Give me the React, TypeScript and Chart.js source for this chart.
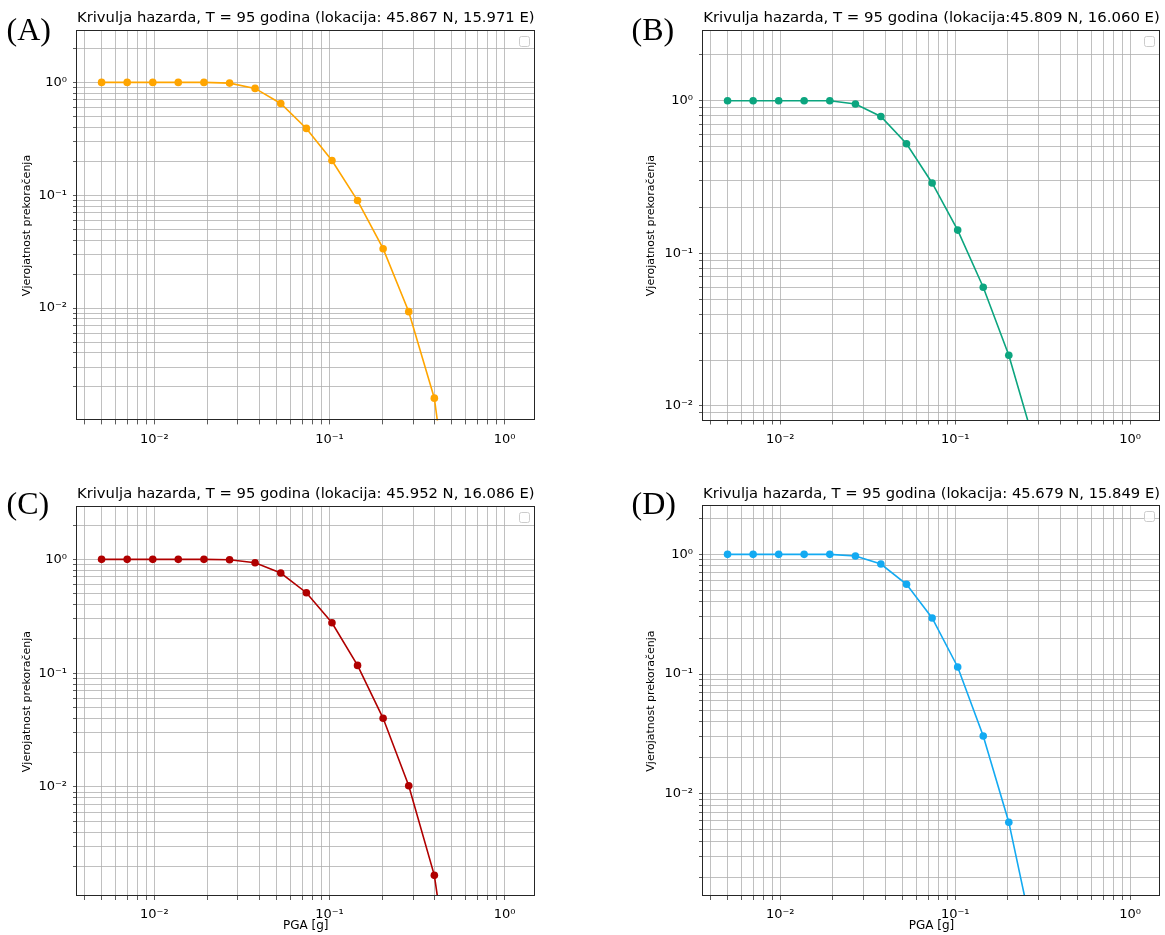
import React, { useEffect, useRef } from 'react';
import { Chart, registerables } from 'chart.js';

Chart.register(...registerables);

const FONT = '"DejaVu Sans", sans-serif';

// PGA values [g] (x axis)
const PGA = [0.005, 0.007, 0.0098, 0.0137, 0.0192, 0.0269, 0.0376, 0.0527, 0.0738, 0.1033, 0.1446, 0.2024, 0.2834, 0.3968, 0.5555];

// Probability of exceedance per location
const POE_A = [1.0, 1.0, 1.0, 1.0, 1.0, 0.986, 0.885, 0.651, 0.391, 0.203, 0.0897, 0.0336, 0.00929, 0.00159, 0.000032];
const POE_B = [1.0, 1.0, 1.0, 1.0, 1.0, 0.951, 0.788, 0.522, 0.289, 0.142, 0.06, 0.0215, 0.0057];
const POE_C = [1.0, 1.0, 1.0, 1.0, 1.0, 0.992, 0.933, 0.758, 0.509, 0.277, 0.117, 0.0401, 0.01025, 0.00167, 0.000047];
const POE_D = [1.0, 1.0, 1.0, 1.0, 1.0, 0.968, 0.83, 0.562, 0.294, 0.1146, 0.0304, 0.00579, 0.000575];

const TITLES = [
  'Krivulja hazarda, T = 95 godina (lokacija: 45.867 N, 15.971 E)',
  'Krivulja hazarda, T = 95 godina (lokacija:45.809 N, 16.060 E)',
  'Krivulja hazarda, T = 95 godina (lokacija: 45.952 N, 16.086 E)',
  'Krivulja hazarda, T = 95 godina (lokacija: 45.679 N, 15.849 E)',
];
const LETTERS = ['(A)', '(B)', '(C)', '(D)'];
const COLORS = ['#ffa500', '#0ca57f', '#b00000', '#13aaf2'];

const Y_LABEL = 'Vjerojatnost prekoračenja';
const X_LABEL = 'PGA [g]';

const X_RANGE = [0.00362, 1.48];
const Y_RANGES = [
  [0.00101, 2.88],
  [0.00803, 2.88],
  [0.0011, 2.88],
  [0.0014, 2.53],
];

const X_MAJOR = [0.01, 0.1, 1];
const X_MAJOR_LABELS = ['10⁻²', '10⁻¹', '10⁰'];
const Y_MAJOR = [0.001, 0.01, 0.1, 1];
const Y_MAJOR_LABELS = ['10⁻³', '10⁻²', '10⁻¹', '10⁰'];

function logTicks(min: number, max: number) {
  const out: { value: number; major: boolean }[] = [];
  for (let e = Math.floor(Math.log10(min)); e <= Math.ceil(Math.log10(max)); e++) {
    for (let k = 1; k <= 9; k++) {
      const v = k * Math.pow(10, e);
      if (v >= min && v <= max) out.push({ value: v, major: k === 1 });
    }
  }
  return out;
}

function majorLabel(v: number, majors: number[], labels: string[]) {
  for (let i = 0; i < majors.length; i++) {
    if (Math.abs(Math.log10(v) - Math.log10(majors[i])) < 1e-6) return labels[i];
  }
  return '';
}

const framePlugin = {
  id: 'frame',
  afterDraw(chart: any) {
    const { ctx, chartArea: a } = chart;
    ctx.save();
    // empty legend box
    ctx.strokeStyle = '#cccccc';
    ctx.fillStyle = 'rgba(255,255,255,0.8)';
    ctx.lineWidth = 1;
    ctx.beginPath();
    const bx = Math.round(a.right - 16) + 0.5;
    const by = Math.round(a.top + 5) + 0.5;
    if ((ctx as any).roundRect) (ctx as any).roundRect(bx, by, 10, 10, 2);
    else ctx.rect(bx, by, 10, 10);
    ctx.fill();
    ctx.stroke();
    // spines
    ctx.strokeStyle = '#262626';
    ctx.lineWidth = 1;
    const l = Math.round(a.left) - 0.5;
    const r = Math.round(a.right) - 0.5;
    const t = Math.round(a.top) - 0.5;
    const b = Math.round(a.bottom) - 0.5;
    ctx.strokeRect(l, t, r - l, b - t);
    ctx.restore();
  },
};

type Cfg = {
  idx: number;
  values: number[];
  left: number;
  top: number;
  width: number;
  height: number;
  padRight: number;
  yAxisW: number;
  xAxisH: number;
  titlePadTop: number;
  titlePadBottom: number;
  yTitlePad: number;
  showX: boolean;
  letterLeft: number;
  letterTop: number;
};

const PANELS: Cfg[] = [
  { idx: 0, values: POE_A, left: 0, top: 0, width: 545, height: 459, padRight: 10.5, yAxisW: 77, xAxisH: 38.6, titlePadTop: 9.4, titlePadBottom: 3.3, yTitlePad: 20.9, showX: false, letterLeft: 6.5, letterTop: 13 },
  { idx: 1, values: POE_B, left: 620, top: 0, width: 545, height: 459, padRight: 5, yAxisW: 83, xAxisH: 38.5, titlePadTop: 9.4, titlePadBottom: 3.3, yTitlePad: 24.9, showX: false, letterLeft: 631.5, letterTop: 13 },
  { idx: 2, values: POE_C, left: 0, top: 470, width: 545, height: 465, padRight: 10.5, yAxisW: 77, xAxisH: 39, titlePadTop: 15.4, titlePadBottom: 3.8, yTitlePad: 20.9, showX: true, letterLeft: 6.5, letterTop: 487 },
  { idx: 3, values: POE_D, left: 620, top: 470, width: 545, height: 465, padRight: 5, yAxisW: 83, xAxisH: 39, titlePadTop: 14.9, titlePadBottom: 3.3, yTitlePad: 24.9, showX: true, letterLeft: 631.5, letterTop: 487 },
];

function Panel({ cfg }: { cfg: Cfg }) {
  const ref = useRef<HTMLCanvasElement>(null);
  useEffect(() => {
    const color = COLORS[cfg.idx];
    const [yMin, yMax] = Y_RANGES[cfg.idx];
    const [xMin, xMax] = X_RANGE;
    const grid = {
      color: '#b0b0b0',
      lineWidth: 0.8,
      drawTicks: true,
      tickLength: 4,
      tickColor: '#333333',
      tickWidth: 0.8,
    };
    const chart = new Chart(ref.current as HTMLCanvasElement, {
      type: 'line',
      data: {
        datasets: [
          {
            data: cfg.values.map((v, i) => ({ x: PGA[i], y: v })),
            borderColor: color,
            backgroundColor: color,
            pointBackgroundColor: color,
            pointBorderColor: color,
            pointBorderWidth: 0,
            pointRadius: 3.8,
            borderWidth: 1.6,
            tension: 0,
            fill: false,
          },
        ],
      },
      options: {
        animation: false,
        responsive: false,
        events: [],
        layout: { padding: { left: 0, right: cfg.padRight, top: 0, bottom: 0 } },
        plugins: {
          legend: { display: false },
          tooltip: { enabled: false },
          title: {
            display: true,
            fullSize: false,
            text: TITLES[cfg.idx],
            color: '#000',
            font: { family: FONT, size: 14.9, weight: 'normal', lineHeight: 1.2 },
            padding: { top: cfg.titlePadTop, bottom: cfg.titlePadBottom },
          },
        },
        scales: {
          x: {
            type: 'logarithmic',
            min: xMin,
            max: xMax,
            bounds: 'data',
            afterBuildTicks: (s: any) => {
              s.ticks = logTicks(xMin, xMax);
            },
            afterFit: (s: any) => {
              s.height = cfg.xAxisH;
            },
            ticks: {
              autoSkip: false,
              maxRotation: 0,
              minRotation: 0,
              padding: 7,
              color: '#000',
              font: { family: FONT, size: 13 },
              callback: (v: any) => majorLabel(Number(v), X_MAJOR, X_MAJOR_LABELS),
            },
            grid,
            border: { display: false },
            title: {
              display: cfg.showX,
              text: X_LABEL,
              color: '#000',
              font: { family: FONT, size: 12, lineHeight: 1.2 },
              padding: { top: 0, bottom: 1.5 },
            },
          },
          y: {
            type: 'logarithmic',
            min: yMin,
            max: yMax,
            bounds: 'data',
            afterBuildTicks: (s: any) => {
              s.ticks = logTicks(yMin, yMax);
            },
            afterFit: (s: any) => {
              s.width = cfg.yAxisW;
            },
            ticks: {
              autoSkip: false,
              padding: 6,
              color: '#000',
              font: { family: FONT, size: 13 },
              callback: (v: any) => majorLabel(Number(v), Y_MAJOR, Y_MAJOR_LABELS),
            },
            grid,
            border: { display: false },
            title: {
              display: true,
              text: Y_LABEL,
              color: '#000',
              font: { family: FONT, size: 11, lineHeight: 1.2 },
              padding: { top: cfg.yTitlePad, bottom: 0 },
            },
          },
        },
      } as any,
      plugins: [framePlugin],
    });
    return () => chart.destroy();
  }, []);
  return (
    <canvas
      ref={ref}
      width={cfg.width}
      height={cfg.height}
      style={{ position: 'absolute', left: cfg.left, top: cfg.top, width: cfg.width, height: cfg.height }}
    />
  );
}

export default function App() {
  return (
    <div
      style={{
        position: 'absolute',
        left: 0,
        top: 0,
        width: 1165,
        height: 935,
        background: '#ffffff',
        overflow: 'hidden',
      }}
    >
      {PANELS.map((p) => (
        <Panel key={'c' + p.idx} cfg={p} />
      ))}
      {PANELS.map((p) => (
        <div
          key={'l' + p.idx}
          style={{
            position: 'absolute',
            left: p.letterLeft,
            top: p.letterTop,
            fontFamily: '"Liberation Serif", "Times New Roman", serif',
            fontSize: 32,
            lineHeight: '32px',
            color: '#000',
            whiteSpace: 'nowrap',
          }}
        >
          {LETTERS[p.idx]}
        </div>
      ))}
    </div>
  );
}
